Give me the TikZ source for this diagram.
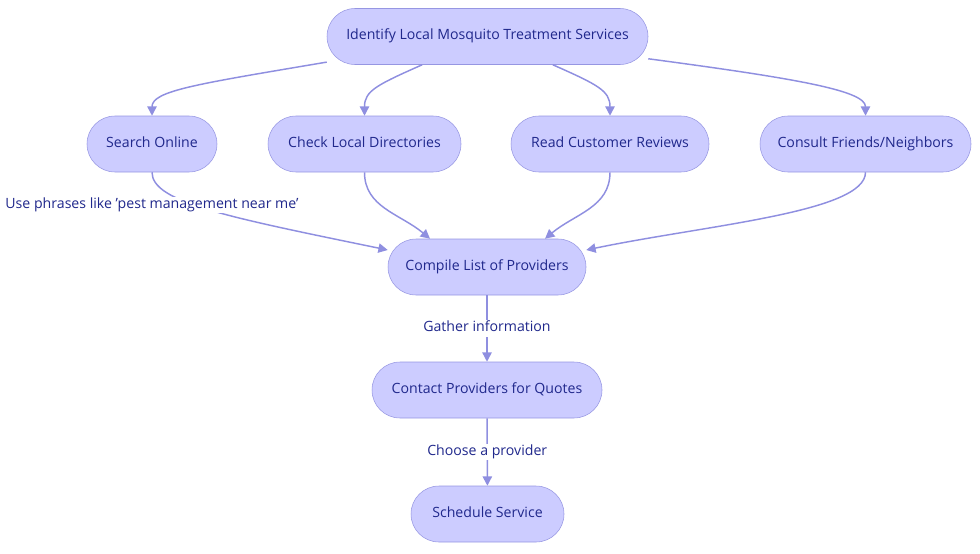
\documentclass[tikz,border=0pt]{standalone}
\usepackage{fontspec}
\setmainfont{Open Sans}
\usetikzlibrary{arrows.meta}
\definecolor{boxfill}{RGB}{204,204,255}
\definecolor{boxline}{RGB}{150,150,226}
\definecolor{edgeline}{RGB}{143,143,224}
\definecolor{inktext}{RGB}{32,40,140}
\begin{document}
\begin{tikzpicture}[x=0.75pt,y=-0.75pt,
  stepbox/.style={draw=boxline,fill=boxfill,rounded corners=21pt,
    minimum height=42pt,inner sep=0pt,text=inktext,text height=7.4pt,text depth=2.8pt,
    font=\fontsize{10.6}{12}\selectfont},
  flow/.style={draw=edgeline,line width=1.1pt,-{Triangle[length=7pt,width=7pt]}},
  edgetext/.style={fill=white,text=inktext,inner sep=1pt,text height=7.4pt,text depth=2.8pt,
    font=\fontsize{10.6}{12}\selectfont}]
\useasboundingbox (0,0) rectangle (980,553);
% nodes
\node[stepbox,minimum width=240.75pt] (identify) at (487.5,36.5) {Identify Local Mosquito Treatment Services};
\node[stepbox,minimum width=97.5pt] (search) at (152,144) {Search Online};
\node[stepbox,minimum width=144.75pt] (directories) at (364.5,144) {Check Local Directories};
\node[stepbox,minimum width=148.5pt] (reviews) at (610,144) {Read Customer Reviews};
\node[stepbox,minimum width=158.25pt] (friends) at (865.5,144) {Consult Friends/Neighbors};
\node[stepbox,minimum width=148.5pt] (compile) at (487,267) {Compile List of Providers};
\node[stepbox,minimum width=172.5pt] (contact) at (487,390) {Contact Providers for Quotes};
\node[stepbox,minimum width=114.75pt] (schedule) at (487.5,514) {Schedule Service};
% edges
\draw[flow] ([yshift=2pt]identify.south west) .. controls +(-130,22) and +(0,-25) .. (search.north);
\draw[flow] ([xshift=-49pt]identify.south) .. controls +(-45,20) and +(0,-25) .. (directories.north);
\draw[flow] ([xshift=49pt]identify.south) .. controls +(45,20) and +(0,-25) .. (reviews.north);
\draw[flow] ([yshift=4.5pt]identify.south east) .. controls +(150,20) and +(0,-25) .. (friends.north);
\draw[flow] (search.south) .. controls +(0,30) and +(-160,-33) .. ([yshift=12.75pt]compile.west);
\draw[flow] (directories.south) .. controls +(0,35) and +(-30,-25) .. ([xshift=-42.75pt]compile.north);
\draw[flow] (reviews.south) .. controls +(0,35) and +(30,-25) .. ([xshift=43.5pt]compile.north);
\draw[flow] (friends.south) .. controls +(0,40) and +(120,-25) .. ([yshift=12.75pt]compile.east);
\node[edgetext] (phrases) at (152,205) {Use phrases like 'pest management near me'};
\draw[flow] (compile) -- node[edgetext] (gather) {Gather information} (contact);
\draw[flow] (contact) -- node[edgetext] (choose) {Choose a provider} (schedule);
\end{tikzpicture}
\end{document}
